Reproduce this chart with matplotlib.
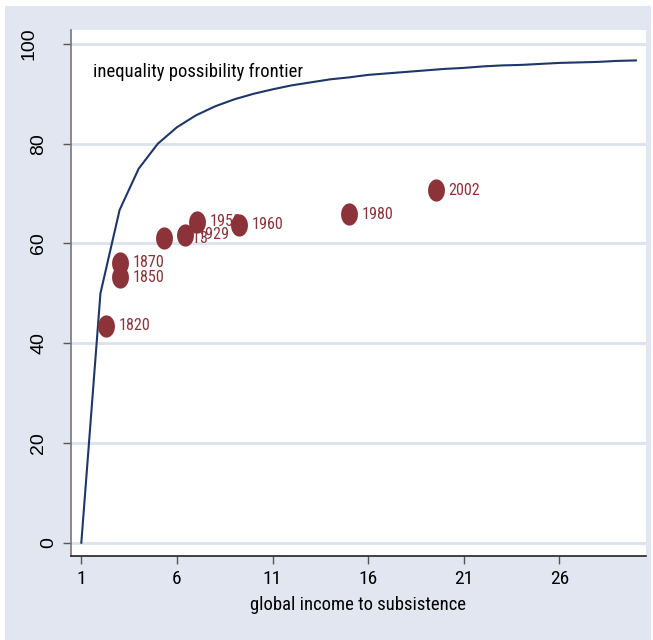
import matplotlib
matplotlib.use("Agg")
import matplotlib.pyplot as plt
import matplotlib.patches as mpatches
from matplotlib import font_manager
from matplotlib.font_manager import FontProperties
from matplotlib.path import Path
from matplotlib.transforms import ScaledTranslation
import numpy as np

# income-to-subsistence ratio and the maximum Gini attainable
frontier_x = list(range(1, 31))
frontier_y = [0, 50, 66.7, 75, 80, 83.3, 85.7, 87.5, 88.9, 90,
              90.9, 91.7, 92.3, 92.9, 93.3, 93.8, 94.1, 94.4, 94.7, 95,
              95.2, 95.5, 95.7, 95.8, 96, 96.2, 96.3, 96.4, 96.6, 96.7]

# observed years
years = ["1820", "1850", "1870", "1913", "1929", "1950", "1960", "1980", "2002"]
income_ratio = [2.28, 3.02, 3.02, 5.33, 6.42, 7.04, 9.25, 15.02, 19.55]
gini = [43.5, 53.2, 56.1, 61.0, 61.7, 64.4, 63.7, 65.9, 70.7]

xticks = [1, 6, 11, 16, 21, 26]
yticks = [0, 20, 40, 60, 80, 100]

BG = "#E1E6F0"
MAROON = "#8C3239"
NAVY = "#1E3668"
FONT = ["Liberation Sans", "DejaVu Sans"]


def narrow_font():
    # the original uses a narrow sans; take one if it is installed
    prefs = ["Liberation Sans Narrow", "Arial Narrow", "Roboto Condensed",
             "Open Sans Condensed", "DejaVu Sans Condensed"]
    fonts = [f for f in font_manager.fontManager.ttflist
             if f.style == "normal" and f.weight in (400, "normal", "regular")]
    for p in prefs:
        for f in fonts:
            if f.name == p:
                return f.fname
    for f in fonts:
        if "condensed" in str(f.stretch) or "Narrow" in f.name or "Condensed" in f.name:
            return f.fname
    return None


NARROW_PATH = narrow_font()


def nfp(size):
    if NARROW_PATH:
        return FontProperties(fname=NARROW_PATH, size=size)
    return FontProperties(family=FONT, size=size * 0.92)


fig = plt.figure(figsize=(6.53, 6.4), dpi=100)
fig.patch.set_facecolor("white")
bg = mpatches.Rectangle((5 / 653, 0), 646 / 653, 634 / 640,
                        transform=fig.transFigure,
                        facecolor=BG, edgecolor="none", zorder=-5)
fig.patches.append(bg)

ax = fig.add_axes([71 / 653, 84 / 640, 575 / 653, 526 / 640])
ax.set_zorder(2)
ax.set_facecolor("white")

ax.set_xlim(0.46, 30.53)
ax.set_ylim(-2.67, 102.8)

for y in yticks:
    ax.axhline(y, color="#DDE3EF", lw=2.2, zorder=1)

ax.plot(frontier_x, frontier_y, color=NAVY, lw=1.5, zorder=3)

# slightly tall ellipse marker, like the original
t = np.linspace(0, 2 * np.pi, 60)
ell = Path(np.column_stack([0.76 * np.cos(t), np.sin(t)]), closed=True)
ax.plot(income_ratio, gini, ls="none", marker=ell, markersize=16,
        color=MAROON, markeredgewidth=0, zorder=5)

for yr, x, y in zip(years, income_ratio, gini):
    ax.annotate(yr, (x, y), xytext=(9, 0), textcoords="offset points",
                ha="left", va="center", color=MAROON,
                fontproperties=nfp(11.6), zorder=4)

ax.text(1.61, 94.4, "inequality possibility frontier", ha="left", va="center",
        fontproperties=nfp(13.4), color="black")

ax.set_xticks(xticks)
ax.set_yticks(yticks)
ax.set_xticklabels([str(v) for v in xticks])
for lab in ax.get_xticklabels():
    lab.set_fontproperties(nfp(14))
ax.set_yticklabels([str(v) for v in yticks], family=FONT, fontsize=14,
                   rotation=90, va="center")
ax.tick_params(axis="both", direction="out", length=6, width=1,
               color="#555555")
ax.tick_params(axis="y", pad=11)
ax.tick_params(axis="x", pad=4)
# longer labels sit further left, as in the original
for lab in ax.get_yticklabels():
    n = len(lab.get_text())
    lab.set_transform(lab.get_transform() +
                      ScaledTranslation(-0.095 * (n - 2), 0, fig.dpi_scale_trans))

ax.set_xlabel("global income to subsistence", fontproperties=nfp(13.4),
              labelpad=6)

for side in ["top", "right"]:
    ax.spines[side].set_visible(False)
ax.spines["left"].set_color("#777777")
ax.spines["bottom"].set_color("#222222")
ax.spines["left"].set_linewidth(1.2)
ax.spines["bottom"].set_linewidth(1.2)

fig.savefig("out.png", dpi=100)
